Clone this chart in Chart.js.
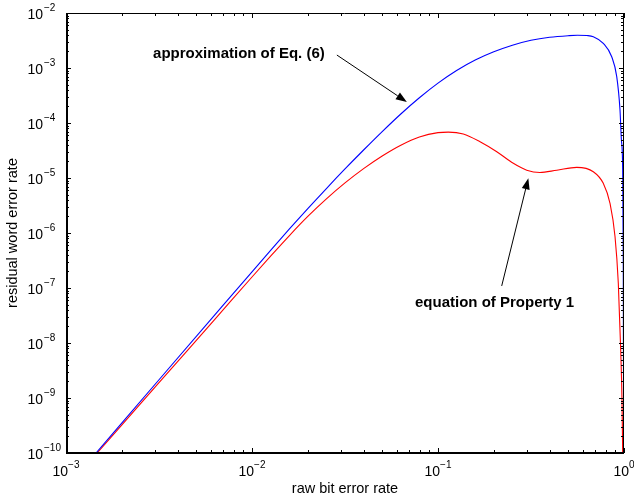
<!DOCTYPE html>
<html>
<head>
<meta charset="utf-8">
<script src="https://cdn.jsdelivr.net/npm/chart.js@4.4.1/dist/chart.umd.min.js"></script>
<style>
  body { margin: 0; background: #fff; }
  #wrap { width: 634px; height: 499px; position: relative; }
</style>
</head>
<body>
<div id="wrap"><canvas id="myChart"></canvas></div>
<script>
// raw bit error rate (x) and residual word error rate (y)
const blueX = [1.45e-3, 3.162e-3, 6.31e-3, 0.01, 0.01259, 0.01585, 0.01995, 0.02512, 0.03162, 0.03981,
    0.05012, 0.0631, 0.07943, 0.1, 0.1259, 0.1585, 0.1995, 0.2512, 0.3162, 0.3981, 0.5012, 0.5623,
    0.631, 0.684, 0.774, 0.859, 0.914, 0.9517, 0.968, 0.984, 0.9908, 0.9954, 0.999];
const blueY = [1e-10, 2.148e-9, 3.236e-8, 1.968e-7, 4.83e-7, 1.172e-6, 2.78e-6, 6.44e-6, 1.459e-5, 3.228e-5,
    6.98e-5, 1.459e-4, 2.877e-4, 5.30e-4, 8.99e-4, 1.393e-3, 1.968e-3, 2.594e-3, 3.19e-3, 3.62e-3, 3.87e-3, 3.94e-3,
    3.89e-3, 3.71e-3, 2.81e-3, 1.60e-3, 6.95e-4, 1.72e-4, 5.0e-5, 1.38e-5, 3.16e-7, 1e-10, 1e-13];

const redX = [1.47e-3, 3.162e-3, 6.31e-3, 0.01, 0.01259, 0.01585, 0.01995, 0.02512, 0.03162, 0.03981,
    0.05012, 0.0631, 0.07943, 0.1, 0.1136, 0.1368, 0.1683, 0.207, 0.254, 0.300, 0.353, 0.435,
    0.557, 0.684, 0.774, 0.841, 0.895, 0.932, 0.960, 0.9754, 0.984, 0.999];
const redY = [1e-10, 1.905e-9, 2.69e-8, 1.585e-7, 3.80e-7, 8.91e-7, 2.0e-6, 4.17e-6, 8.13e-6, 1.479e-5,
    2.51e-5, 3.94e-5, 5.56e-5, 6.68e-5, 6.82e-5, 6.31e-5, 4.57e-5, 3.01e-5, 1.85e-5, 1.387e-5, 1.259e-5, 1.387e-5,
    1.563e-5, 1.303e-5, 8.0e-6, 3.47e-6, 8.57e-7, 1.216e-7, 7.46e-9, 9.2e-10, 1e-10, 1e-13];

// decades shown on the axes
const xExps = [-3, -2, -1, 0];
const yExps = [-10, -9, -8, -7, -6, -5, -4, -3, -2];

// annotations, in data units
const notes = [
    {text: 'approximation of Eq. (6)', x: 2.94e-3, y: 1.8e-3, from: [0.0286, 1.72e-3], to: [0.068, 2.41e-4]},
    {text: 'equation of Property 1', x: 0.0752, y: 5.34e-8, from: [0.22, 1.09e-7], to: [0.306, 9.9e-6]}
];

const FONT = '"Liberation Sans", Arial, Helvetica, sans-serif';

const toPts = (xs, ys) => xs.map((v, i) => ({x: v, y: ys[i]}));

const axesPlugin = {
    id: 'matlabAxes',
    afterDatasetsDraw(chart) {
        const {ctx, chartArea: a, scales: {x, y}} = chart;
        ctx.save();
        ctx.strokeStyle = '#000';
        ctx.fillStyle = '#000';

        // box: heavier left/bottom, thin top/right
        ctx.lineWidth = 1;
        ctx.beginPath();
        ctx.moveTo(a.left, a.top + 0.5); ctx.lineTo(a.right - 0.5, a.top + 0.5);
        ctx.lineTo(a.right - 0.5, a.bottom);
        ctx.stroke();
        ctx.lineWidth = 2;
        ctx.beginPath();
        ctx.moveTo(a.left + 1, a.top); ctx.lineTo(a.left + 1, a.bottom);
        ctx.moveTo(a.left, a.bottom); ctx.lineTo(a.right, a.bottom);
        ctx.stroke();

        ctx.lineWidth = 1;
        ctx.beginPath();
        // x ticks, inward on bottom and top
        xExps.forEach(e => {
            for (let m = 1; m <= 9; m++) {
                const v = m * Math.pow(10, e);
                if (v > x.max * 1.0001) break;
                const px = Math.round(x.getPixelForValue(v)) + 0.5;
                const len = m === 1 ? 5 : 3;
                ctx.moveTo(px, a.bottom); ctx.lineTo(px, a.bottom - len);
                ctx.moveTo(px, a.top); ctx.lineTo(px, a.top + len);
            }
        });
        // y ticks, inward on left and right
        yExps.forEach(e => {
            for (let m = 1; m <= 9; m++) {
                const v = m * Math.pow(10, e);
                if (v > y.max * 1.0001) break;
                const py = Math.round(y.getPixelForValue(v)) + 0.5;
                const len = m === 1 ? 5 : 3;
                ctx.moveTo(a.left, py); ctx.lineTo(a.left + len, py);
                ctx.moveTo(a.right, py); ctx.lineTo(a.right - len, py);
            }
        });
        ctx.stroke();

        // tick labels 10^e
        const big = '14px ' + FONT, small = '10px ' + FONT;
        ctx.textBaseline = 'alphabetic';
        xExps.forEach(e => {
            const px = x.getPixelForValue(Math.pow(10, e));
            const sup = e < 0 ? '\u2212' + Math.abs(e) : String(e);
            ctx.font = big; const w1 = ctx.measureText('10').width;
            ctx.font = small; const w2 = ctx.measureText(sup).width;
            const left = px - (w1 + w2) / 2;
            ctx.font = big; ctx.textAlign = 'left';
            ctx.fillText('10', left, a.bottom + 23);
            ctx.font = small;
            ctx.fillText(sup, left + w1, a.bottom + 15);
        });
        yExps.forEach(e => {
            const py = y.getPixelForValue(Math.pow(10, e));
            const sup = e < 0 ? '\u2212' + Math.abs(e) : String(e);
            ctx.font = big; ctx.textAlign = 'right';
            ctx.fillText('10', 43, py + 6);
            ctx.font = small; ctx.textAlign = 'left';
            ctx.fillText(sup, 44, py - 2);
        });

        // axis titles
        ctx.font = '14.5px ' + FONT;
        ctx.textAlign = 'center';
        ctx.fillText('raw bit error rate', (a.left + a.right) / 2, 493);
        ctx.save();
        ctx.translate(17, (a.top + a.bottom) / 2);
        ctx.rotate(-Math.PI / 2);
        ctx.fillText('residual word error rate', 0, 0);
        ctx.restore();

        // annotations with arrows
        ctx.font = 'bold 15px ' + FONT;
        ctx.textAlign = 'left';
        ctx.textBaseline = 'middle';
        notes.forEach(n => {
            ctx.fillText(n.text, x.getPixelForValue(n.x), y.getPixelForValue(n.y));
            const x0 = x.getPixelForValue(n.from[0]), y0 = y.getPixelForValue(n.from[1]);
            const x1 = x.getPixelForValue(n.to[0]), y1 = y.getPixelForValue(n.to[1]);
            const ang = Math.atan2(y1 - y0, x1 - x0);
            const hl = 11, hw = 4;
            ctx.beginPath();
            ctx.moveTo(x0, y0);
            ctx.lineTo(x1 - hl * Math.cos(ang), y1 - hl * Math.sin(ang));
            ctx.stroke();
            ctx.beginPath();
            ctx.moveTo(x1, y1);
            ctx.lineTo(x1 - hl * Math.cos(ang) + hw * Math.sin(ang), y1 - hl * Math.sin(ang) - hw * Math.cos(ang));
            ctx.lineTo(x1 - hl * Math.cos(ang) - hw * Math.sin(ang), y1 - hl * Math.sin(ang) + hw * Math.cos(ang));
            ctx.closePath();
            ctx.fill();
        });
        ctx.restore();
    }
};

const data = {
    datasets: [{
        label: 'approximation of Eq. (6)',
        data: toPts(blueX, blueY),
        borderColor: '#0000ff',
        borderWidth: 1.1,
        showLine: true,
        pointRadius: 0,
        cubicInterpolationMode: 'monotone'
    }, {
        label: 'equation of Property 1',
        data: toPts(redX, redY),
        borderColor: '#ff0000',
        borderWidth: 1.1,
        showLine: true,
        pointRadius: 0,
        cubicInterpolationMode: 'monotone'
    }]
};

const config = {
    type: 'scatter',
    data,
    options: {
        responsive: true,
        maintainAspectRatio: false,
        animation: false,
        layout: {padding: {left: 66, top: 13, right: 10, bottom: 46}},
        plugins: {legend: {display: false}, tooltip: {enabled: false}},
        scales: {
            x: {type: 'logarithmic', min: 1e-3, max: 1, display: false},
            y: {type: 'logarithmic', min: 1e-10, max: 1e-2, display: false}
        }
    },
    plugins: [axesPlugin]
};

new Chart(document.getElementById('myChart'), config);
</script>
</body>
</html>
